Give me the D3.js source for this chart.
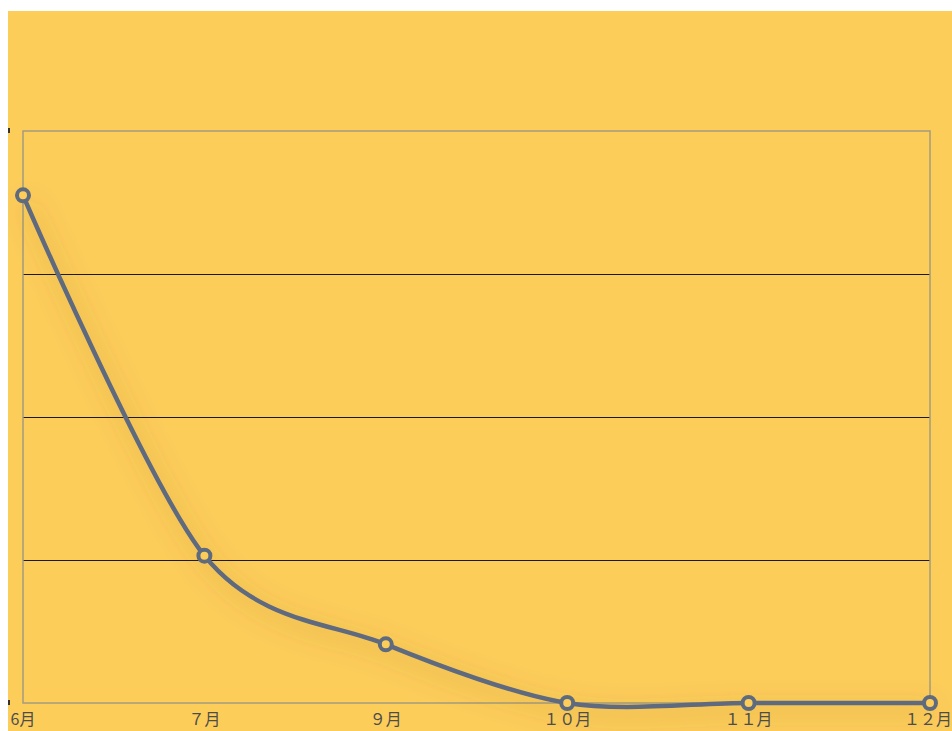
<!DOCTYPE html>
<html><head><meta charset="utf-8">
<script src="https://cdn.jsdelivr.net/npm/d3@7"></script>
<style>
html,body{margin:0;padding:0;background:#fff;overflow:hidden;}
svg{position:absolute;left:8px;top:11px;}
</style></head>
<body>
<script>
const months = ["6月","７月","９月","１０月","１１月","１２月"];
const values = [35.5, 10.3, 4.1, 0, 0, 0];
const yTicks = [0, 10, 20, 30, 40];

(function(){
const W = 944, H = 720;
const ox = 8, oy = 11;
const pL = 23 - ox, pR = 930 - ox, pT = 131 - oy, pB = 703 - oy;

const svg = d3.select("body").append("svg").attr("width", W).attr("height", H);
svg.append("rect").attr("width", W).attr("height", H).attr("fill", "#FDCD5A");

const defs = svg.append("defs");
const f = defs.append("filter").attr("id","sh").attr("x","-30%").attr("y","-30%").attr("width","160%").attr("height","160%");
f.append("feDropShadow").attr("dx",4).attr("dy",7).attr("stdDeviation",13)
  .attr("flood-color","#6a4c00").attr("flood-opacity",0.4);

const x = d3.scalePoint().domain(months).range([pL, pR]);
const y = d3.scaleLinear().domain([0, 40]).range([pB, pT]);

svg.append("g").selectAll("line").data(yTicks.filter(t => t > 0 && t < 40)).join("line")
  .attr("x1", pL).attr("x2", pR)
  .attr("y1", d => y(d) + 0.5).attr("y2", d => y(d) + 0.5)
  .attr("stroke", "#1a1a1a").attr("stroke-width", 1).attr("shape-rendering", "crispEdges");

svg.append("rect").attr("x", pL).attr("y", y(40)).attr("width", pR - pL).attr("height", y(0) - y(40))
  .attr("fill", "none").attr("stroke", "#a39b7f").attr("stroke-width", 1.5);

svg.append("g").selectAll("line").data([0, 40]).join("line")
  .attr("x1", 1).attr("x2", 1)
  .attr("y1", d => y(d) - 3).attr("y2", d => y(d) + 2)
  .attr("stroke", "#333").attr("stroke-width", 2);

const line = d3.line().x((d, i) => x(months[i])).y(d => y(d)).curve(d3.curveCardinal.tension(0.1));
svg.append("path").datum(values).attr("d", line)
  .attr("fill", "none").attr("stroke", "#5e6a7e").attr("stroke-width", 4.5)
  .attr("filter", "url(#sh)");

svg.append("g").selectAll("circle").data(values).join("circle")
  .attr("cx", (d, i) => x(months[i])).attr("cy", d => y(d)).attr("r", 6)
  .attr("fill", "#FDCD5A").attr("stroke", "#5e6a7e").attr("stroke-width", 4);

svg.append("g").selectAll("text").data(months).join("text")
  .attr("x", d => Math.min(Math.max(x(d), 15), W - 24))
  .attr("y", 725 - oy)
  .attr("text-anchor", "middle")
  .attr("font-family", "'Noto Sans CJK JP', sans-serif")
  .attr("font-size", 16)
  .attr("fill", "#4d4d4d")
  .text(d => d);
})();
</script>
</body></html>
